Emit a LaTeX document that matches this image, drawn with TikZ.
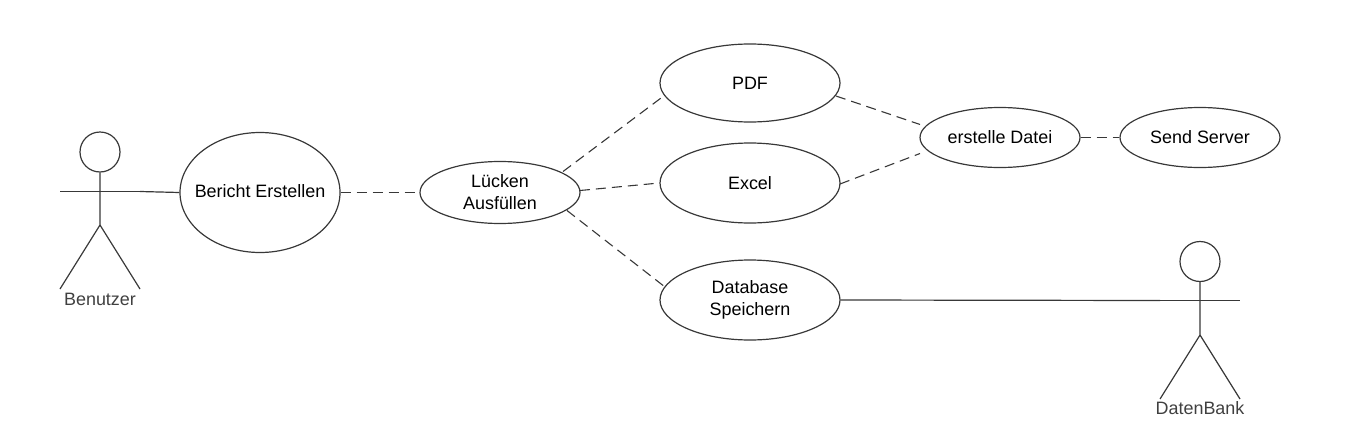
\documentclass[tikz,border=0pt]{standalone}
\usepackage{fontspec}
\setmainfont{Liberation Sans}
\usetikzlibrary{calc,shapes.geometric}
\definecolor{strokegrey}{gray}{0.22}
\tikzset{
  usecase/.style={draw=strokegrey,ellipse,line width=0.012cm,minimum width=#1,inner sep=0pt,align=center,font=\fontsize{5.1}{6.3}\selectfont},
  actorline/.style={draw=strokegrey,line width=0.012cm},
  dashline/.style={draw=strokegrey,line width=0.011cm,dash pattern=on 0.1cm off 0.06cm},
  actorname/.style={text=black!75,font=\fontsize{5.1}{6.3}\selectfont}
}
\begin{document}
\begin{tikzpicture}
    \useasboundingbox (0,0) rectangle (13.6,4.47);
    % Use cases
    \node [usecase=1.6cm,minimum height=1.2cm] (bericht) at (2.60,2.545) {\raisebox{0.03cm}{\makebox[0pt]{Bericht Erstellen}}};
    \node [usecase=1.6cm,minimum height=0.62cm] (luecken) at (5.00,2.545) {Lücken\\Ausfüllen};
    \node [usecase=1.8cm,minimum height=0.78cm] (pdf) at (7.50,3.64) {PDF};
    \node [usecase=1.8cm,minimum height=0.8cm] (excel) at (7.50,2.64) {Excel};
    \node [usecase=1.8cm,minimum height=0.8cm] (database) at (7.50,1.47) {Database\\Speichern};
    \node [usecase=1.6cm,minimum height=0.6cm] (datei) at (10.00,3.095) {erstelle Datei};
    \node [usecase=1.6cm,minimum height=0.6cm] (server) at (12.00,3.095) {Send Server};
    % Actor Benutzer
    \node [draw,circle,actorline,minimum size=0.4cm,inner sep=0pt] (headA) at (1.00,2.95) {};
    \coordinate (hipA) at (1.00,2.22);
    \coordinate (armAl) at (0.60,2.555);
    \coordinate (armAr) at (1.40,2.555);
    \coordinate (footAl) at (0.60,1.58);
    \coordinate (footAr) at (1.40,1.58);
    \draw [actorline] (headA) -- (hipA) -- (footAl);
    \draw [actorline] (hipA) -- (footAr);
    \draw [actorline] (armAl) -- (armAr);
    \node [actorname] (nameA) at (1.00,1.48) {Benutzer};
    % Actor DatenBank
    \node [draw,circle,actorline,minimum size=0.4cm,inner sep=0pt] (headB) at (12.00,1.855) {};
    \coordinate (hipB) at (12.00,1.12);
    \coordinate (armBl) at (11.60,1.465);
    \coordinate (armBr) at (12.40,1.465);
    \coordinate (footBl) at (11.60,0.48);
    \coordinate (footBr) at (12.40,0.48);
    \draw [actorline] (headB) -- (hipB) -- (footBl);
    \draw [actorline] (hipB) -- (footBr);
    \draw [actorline] (armBl) -- (armBr);
    \node [actorname] (nameB) at (12.00,0.39) {DatenBank};
    % Solid connectors
    \draw [actorline] (armAr) -- (bericht.west);
    \draw [actorline] (database.east) -- (armBl);
    % Dashed connectors
    \draw [dashline] (bericht.east) -- (luecken.west);
    \draw [dashline] ($(luecken)+(0.63,0.21)$) -- ($(pdf)+(-0.85,-0.12)$);
    \draw [dashline] ($(luecken)+(0.80,0.02)$) -- (excel.west);
    \draw [dashline] ($(luecken)+(0.67,-0.18)$) -- ($(database)+(-0.85,0.13)$);
    \draw [dashline] ($(pdf)+(0.86,-0.13)$) -- ($(datei)+(-0.80,0.13)$);
    \draw [dashline] ($(excel)+(0.90,-0.01)$) -- ($(datei)+(-0.80,-0.16)$);
    \draw [dashline] (datei.east) -- (server.west);
\end{tikzpicture}
\end{document}
